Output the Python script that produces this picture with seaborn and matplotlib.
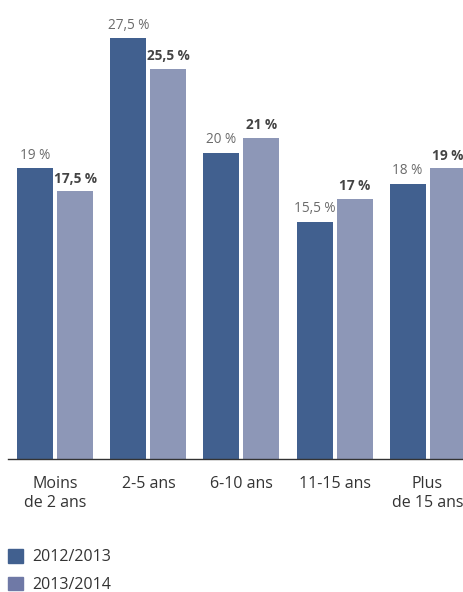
import pandas as pd
import numpy as np
import matplotlib
matplotlib.use('Agg')
import matplotlib.pyplot as plt
import matplotlib.patches as mpatches
import seaborn as sns

# Data
categories = ['Moins\nde 2 ans', '2-5 ans', '6-10 ans', '11-15 ans', 'Plus\nde 15 ans']
years = ['2012/2013', '2013/2014']
values_2012 = [19, 27.5, 20, 15.5, 18]
values_2013 = [17.5, 25.5, 21, 17, 19]

colors = ['#41608f', '#8d97b7']
legend_colors = ['#41608f', '#6f79a6']

df = pd.DataFrame({
    'categorie': categories * 2,
    'annee': [years[0]] * 5 + [years[1]] * 5,
    'valeur': values_2012 + values_2013,
})

sns.set_style('white')
plt.rcParams['font.family'] = ['Open Sans', 'DejaVu Sans']

fig = plt.figure(figsize=(4.64, 5.92), dpi=100)
ax = fig.add_axes([0.017, 133 / 592, 0.983, 459 / 592])

sns.barplot(
    data=df, x='categorie', y='valeur', hue='annee',
    palette=colors, width=0.86, gap=0.1, ax=ax, legend=False,
    saturation=1, linewidth=0, edgecolor='none',
)


def fmt(v):
    s = f'{v:g}'.replace('.', ',')
    return f'{s} %'


for cont, bold, col in zip(ax.containers, [False, True], ['#6b6b6b', '#444444']):
    labels = [fmt(v) for v in cont.datavalues]
    ax.bar_label(cont, labels=labels, padding=4, fontsize=9.8,
                 fontweight='bold' if bold else 'normal', color=col)

ax.set_ylim(0, 30)
ax.set_xlim(-0.511, 4.392)
ax.set_xlabel('')
ax.set_ylabel('')
ax.set_yticks([])
for s in ['top', 'right', 'left']:
    ax.spines[s].set_visible(False)
ax.spines['bottom'].set_color('#333333')
ax.spines['bottom'].set_linewidth(1)
ax.tick_params(axis='x', length=0, pad=12, labelsize=11.5, labelcolor='#333333')
for t in ax.get_xticklabels():
    t.set_linespacing(1.3)

handles = [mpatches.Patch(color=c, label=l) for c, l in zip(legend_colors, years)]
fig.legend(handles=handles, loc='upper left', bbox_to_anchor=(0.017, 1 - 549 / 592),
           frameon=False, fontsize=11.5, handlelength=0.95, handleheight=0.95,
           handletextpad=0.6, labelspacing=0.7, labelcolor='#333333',
           borderpad=0, borderaxespad=0)

plt.savefig('out.png', dpi=100)
plt.close()
